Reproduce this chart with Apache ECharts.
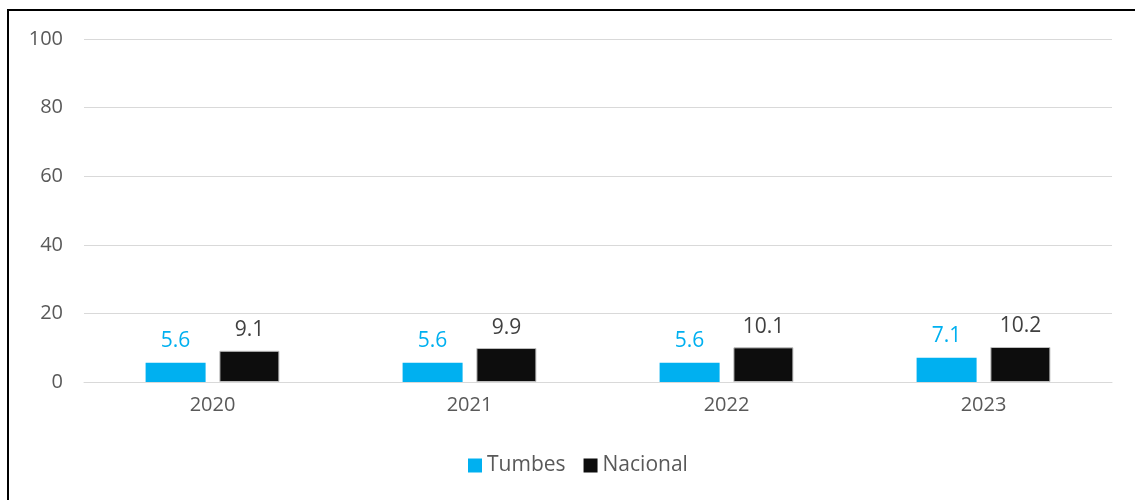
<!DOCTYPE html>
<html><head><meta charset="utf-8">
<script src="https://cdn.jsdelivr.net/npm/echarts@6/dist/echarts.min.js"></script>
<style>
html,body{margin:0;padding:0;background:#fff;overflow:hidden;}
#frame{position:absolute;left:7px;top:9px;width:1140px;height:500px;border:2px solid #000;box-sizing:border-box;}
#chart{position:absolute;left:0;top:0;width:1135px;height:500px;}
</style></head>
<body>
<div id="frame"></div>
<div id="chart"></div>
<script>
const categories = ['2020','2021','2022','2023'];
const tumbes = [5.6, 5.6, 5.6, 7.1];
const nacional = [9.1, 9.9, 10.1, 10.2];
const yTicks = [0, 20, 40, 60, 80, 100];

const font = "'Open Sans', 'Noto Sans', sans-serif";
const chart = echarts.init(document.getElementById('chart'));
chart.setOption({
  animation: false,
  textStyle: {fontFamily: font},
  grid: {left: 84, right: 23, top: 39, bottom: 118, containLabel: false},
  legend: {
    bottom: 19, left: 463, itemWidth: 14, itemHeight: 14, itemGap: 18,
    icon: 'rect',
    textStyle: {fontSize: 21, color: '#595959', fontFamily: font},
    data: [{name:'Tumbes'}, {name:'Nacional', itemStyle:{borderWidth:0}}]
  },
  xAxis: {
    type: 'category', data: categories,
    axisLine: {lineStyle: {color: '#D9D9D9', width: 1}},
    axisTick: {show: false},
    axisLabel: {fontSize: 20, color: '#595959', margin: 13, fontFamily: font}
  },
  yAxis: {
    type: 'value', min: yTicks[0], max: yTicks[yTicks.length-1], interval: 20,
    axisLine: {show: false}, axisTick: {show: false},
    axisLabel: {fontSize: 20, color: '#595959', margin: 21, fontFamily: font},
    splitLine: {lineStyle: {color: '#D9D9D9', width: 1}}
  },
  series: [
    {
      name: 'Tumbes', type: 'bar', data: tumbes, barWidth: 60, barGap: '23%',
      itemStyle: {color: '#00B0F0'},
      label: {show: true, position: 'top', distance: 11, fontSize: 21, color: '#00B0F0', fontFamily: font}
    },
    {
      name: 'Nacional', type: 'bar', data: nacional, barWidth: 60,
      itemStyle: {color: '#0D0D0D', borderColor: '#BFBFBF', borderWidth: 1},
      label: {show: true, position: 'top', distance: 10, fontSize: 21, color: '#404040', fontFamily: font}
    }
  ]
});
</script>
</body></html>
